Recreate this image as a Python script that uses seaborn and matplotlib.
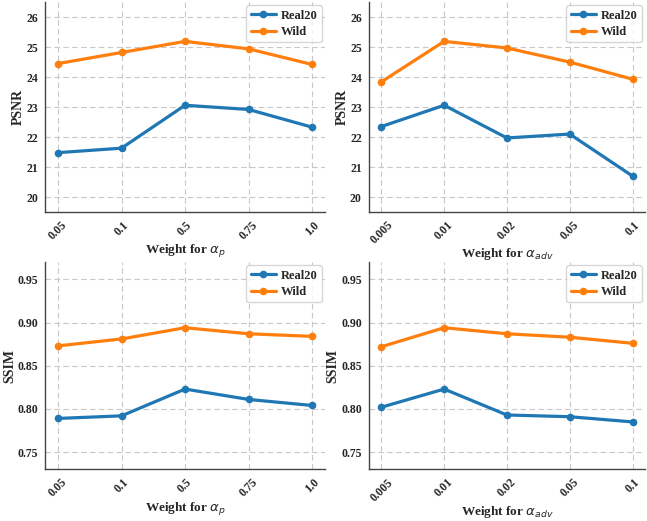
import pandas as pd
import matplotlib.pyplot as plt
import seaborn as sns

# valores
alpha_p = ["0.05", "0.1", "0.5", "0.75", "1.0"]
alpha_adv = ["0.005", "0.01", "0.02", "0.05", "0.1"]

psnr_p_real20 = [21.48, 21.63, 23.06, 22.92, 22.33]
psnr_p_wild = [24.45, 24.82, 25.19, 24.94, 24.42]
psnr_adv_real20 = [22.35, 23.06, 21.97, 22.10, 20.70]
psnr_adv_wild = [23.84, 25.19, 24.97, 24.50, 23.93]

ssim_p_real20 = [0.789, 0.792, 0.823, 0.811, 0.804]
ssim_p_wild = [0.873, 0.881, 0.894, 0.887, 0.884]
ssim_adv_real20 = [0.802, 0.823, 0.793, 0.791, 0.785]
ssim_adv_wild = [0.872, 0.894, 0.887, 0.883, 0.876]

sns.set_style("white")
plt.rcParams['font.family'] = ['Liberation Serif', 'DejaVu Serif']

palette = {"Real20": "#1f77b4", "Wild": "#ff7f0e"}


def make_df(labels, real20, wild):
    n = len(labels)
    return pd.DataFrame({
        "x": list(range(n)) * 2,
        "value": real20 + wild,
        "dataset": ["Real20"] * n + ["Wild"] * n,
    })


panels = [
    (alpha_p, psnr_p_real20, psnr_p_wild, "PSNR", r"Weight for $\alpha_p$", (19.5, 26.5), [20, 21, 22, 23, 24, 25, 26], "{:.0f}"),
    (alpha_adv, psnr_adv_real20, psnr_adv_wild, "PSNR", r"Weight for $\alpha_{adv}$", (19.5, 26.5), [20, 21, 22, 23, 24, 25, 26], "{:.0f}"),
    (alpha_p, ssim_p_real20, ssim_p_wild, "SSIM", r"Weight for $\alpha_p$", (0.73, 0.97), [0.75, 0.80, 0.85, 0.90, 0.95], "{:.2f}"),
    (alpha_adv, ssim_adv_real20, ssim_adv_wild, "SSIM", r"Weight for $\alpha_{adv}$", (0.73, 0.97), [0.75, 0.80, 0.85, 0.90, 0.95], "{:.2f}"),
]

positions = [
    [0.070, 0.593, 0.432, 0.403],
    [0.570, 0.593, 0.427, 0.403],
    [0.070, 0.099, 0.432, 0.398],
    [0.570, 0.099, 0.427, 0.398],
]

fig = plt.figure(figsize=(6.47, 5.21), dpi=100)

for pos, (labels, real20, wild, ylabel, xlabel, ylim, yticks, fmt) in zip(positions, panels):
    ax = fig.add_axes(pos)
    df = make_df(labels, real20, wild)
    sns.lineplot(data=df, x="x", y="value", hue="dataset", palette=palette,
                 marker="o", markersize=5.5, markeredgewidth=0, linewidth=2.3, ax=ax)
    ax.set_xlim(-0.2, len(labels) - 0.8)
    ax.set_ylim(*ylim)
    ax.set_xticks(range(len(labels)))
    ax.set_xticklabels(labels, rotation=45, fontsize=8.5, fontweight='bold')
    ax.set_yticks(yticks)
    ax.set_yticklabels([fmt.format(v) for v in yticks], fontsize=8.5, fontweight='bold')
    ax.set_ylabel(ylabel, fontsize=10, fontweight='bold', labelpad=1)
    ax.set_xlabel(xlabel, fontsize=9.5, fontweight='bold', labelpad=0)
    ax.grid(True, linestyle=(0, (5, 3)), color='#c8c8c8', linewidth=0.8)
    sns.despine(ax=ax)
    for s in ["left", "bottom"]:
        ax.spines[s].set_color('#444444')
        ax.spines[s].set_linewidth(1.0)
    ax.tick_params(axis='both', length=3, color='#444444', pad=2)
    leg = ax.legend(loc="upper right", frameon=True, borderaxespad=0.25,
                    borderpad=0.35, labelspacing=0.35, handletextpad=0.4,
                    handlelength=2.0, prop={'weight': 'bold', 'size': 9})
    leg.get_frame().set_edgecolor('#cccccc')

plt.savefig('out.png', dpi=100)
